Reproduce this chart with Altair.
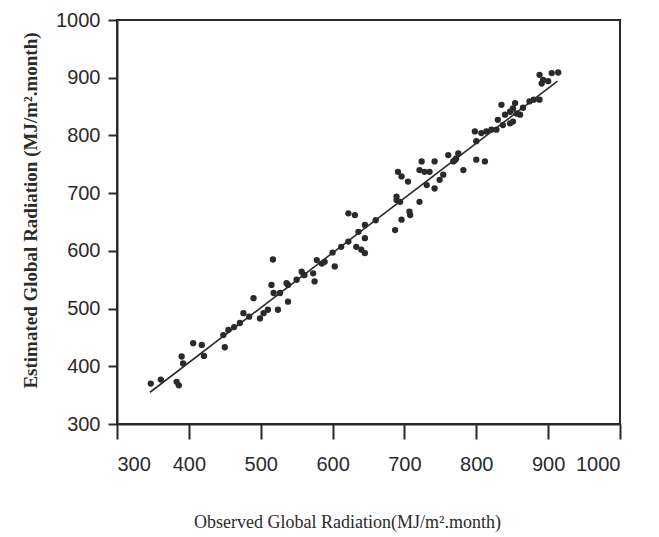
import altair as alt
import pandas as pd

# Observed vs estimated global radiation (MJ/m2.month)
obs = [347, 361, 383, 386, 390, 392, 406, 418, 421, 450, 448, 455, 471, 476, 484,
       490, 499, 504, 510, 524, 515, 518, 527, 538, 538, 550, 517, 536, 557, 561,
       573, 575, 578, 585, 589, 603, 622, 633, 640, 645, 645, 636, 622, 631, 645,
       687, 689, 696, 708, 707, 721, 689, 694, 705, 691, 696, 724, 721, 728, 735,
       731, 742, 742, 749, 754, 761, 768, 775, 772, 782, 800, 812, 798, 807, 814,
       828, 837, 847, 800, 830, 835, 840, 847, 851, 854, 856, 851, 861, 874, 888,
       888, 891, 893, 905, 914, 900, 821, 560, 600, 660, 770, 865, 880, 612, 463]
est = [370, 377, 373, 367, 417, 405, 440, 437, 418, 433, 454, 463, 475, 492, 486,
       518, 483, 492, 498, 498, 541, 527, 527, 512, 541, 550, 585, 544, 564, 558,
       561, 547, 584, 578, 581, 573, 616, 607, 602, 596, 622, 633, 665, 662, 645,
       636, 688, 654, 662, 668, 685, 694, 685, 720, 737, 729, 755, 740, 737, 737,
       714, 755, 708, 723, 732, 766, 755, 769, 760, 740, 758, 755, 807, 804, 807,
       810, 818, 821, 790, 827, 853, 836, 841, 847, 856, 838, 824, 836, 859, 862,
       905, 890, 896, 908, 909, 894, 810, 558, 597, 653, 757, 848, 862, 607, 468]

# Fitted line end points as drawn in the figure
fit_obs = [346, 913]
fit_est = [355, 894]

tick_vals = [300, 400, 500, 600, 700, 800, 900, 1000]

pts = pd.DataFrame({"obs": obs, "est": est})
fit = pd.DataFrame({"obs": fit_obs, "est": fit_est})

ink = "#2a2a2a"
num_font = "Liberation Sans, Arial, sans-serif"
serif = "Liberation Serif, Times New Roman, serif"

xscale = alt.Scale(domain=[300, 1000], nice=False, zero=False)
yscale = alt.Scale(domain=[300, 1000], nice=False, zero=False)

xaxis = alt.Axis(
    title="Observed Global Radiation(MJ/m².month)",
    values=tick_vals, format="d", grid=False, labelOverlap=False,
    tickSize=15, tickWidth=2, tickColor=ink, labelPadding=15,
    labelFont=num_font, labelFontSize=20, labelColor=ink,
    domainColor=ink, domainWidth=2,
    titleFont=serif, titleFontSize=18, titleFontWeight="normal", titleColor=ink,
    titleX=230, titleY=98, titleAlign="center", titleBaseline="middle",
)
yaxis = alt.Axis(
    title="Estimated Global Radiation (MJ/m².month)",
    values=tick_vals, format="d", grid=False, labelOverlap=False,
    tickSize=9, tickWidth=2, tickColor=ink, labelPadding=8,
    labelFont=num_font, labelFontSize=20, labelColor=ink,
    domainColor=ink, domainWidth=2,
    titleFont=serif, titleFontSize=19, titleFontWeight="bold", titleColor=ink,
    titleX=-87, titleY=190, titleAlign="center", titleBaseline="middle",
)

points = alt.Chart(pts).mark_point(
    filled=True, shape="circle", size=40, color=ink, opacity=1
).encode(
    x=alt.X("obs:Q", scale=xscale, axis=xaxis),
    y=alt.Y("est:Q", scale=yscale, axis=yaxis),
)

line = alt.Chart(fit).mark_line(color=ink, strokeWidth=1.6).encode(
    x=alt.X("obs:Q", scale=xscale),
    y=alt.Y("est:Q", scale=yscale),
)

chart = alt.layer(line, points).properties(
    width=503, height=404,
    autosize=alt.AutoSizeParams(type="none"),
    padding={"left": 109, "top": 12, "right": 31, "bottom": 110},
    background="white",
).configure_view(stroke=ink, strokeWidth=2)

chart.save("out.html", embed_options={"renderer": "svg", "actions": False})
